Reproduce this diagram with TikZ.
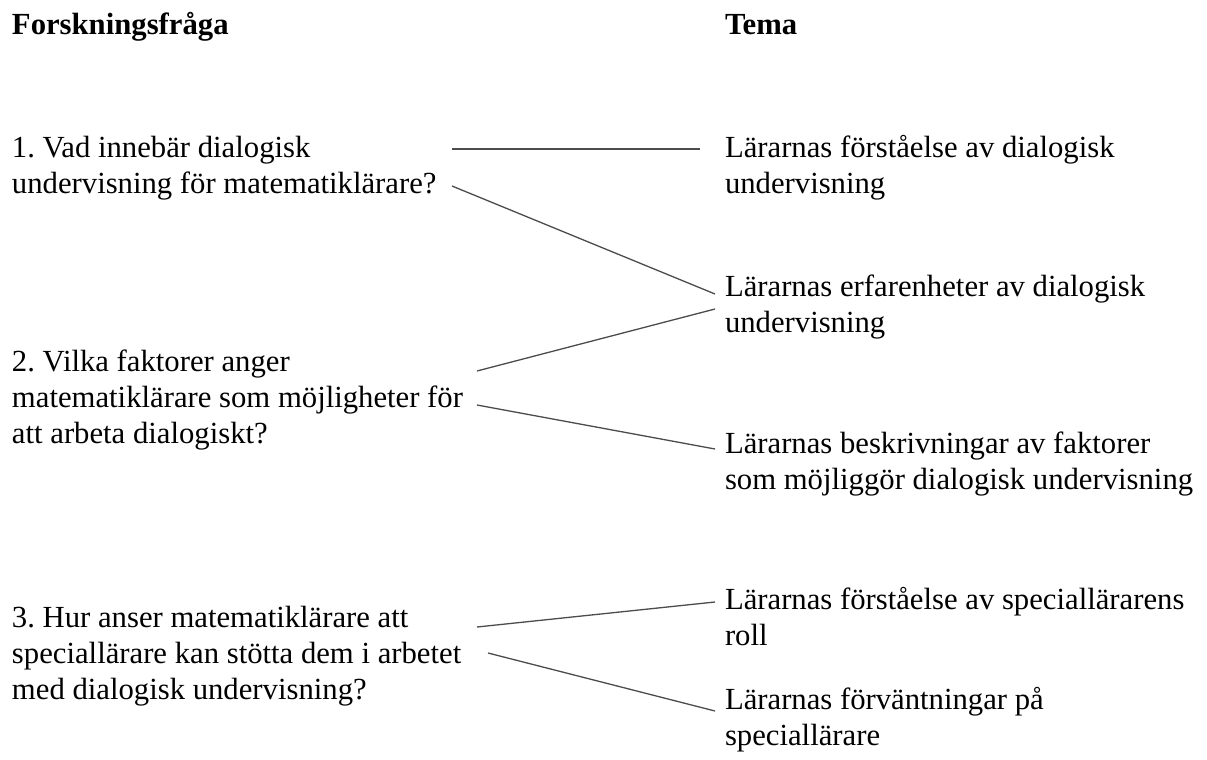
\documentclass[tikz,border=0pt]{standalone}
\usepackage{fontspec}
\setmainfont{Liberation Serif}
\frenchspacing
\newcommand\mkblock[1]{\begin{tabular}[t]{@{}l@{}}#1\end{tabular}}
\begin{document}
\begin{tikzpicture}[x=1pt,y=-1pt,
  txt/.style={anchor=base west, inner sep=0pt, outer sep=0pt, text=black,
    font=\fontsize{30.7}{36}\selectfont\frenchspacing},
  hd/.style={txt, font=\fontsize{30.7}{36}\selectfont\bfseries, text=black},
  conn/.style={line width=1.3pt, draw=black!70}]
\useasboundingbox[fill=white] (0,0) rectangle (1207,760);

% headings
\node[hd] (h1) at (12,35) {Forskningsfråga};
\node[hd] (h2) at (725,35) {Tema};

% research questions
\node[txt] (q1) at (12,157) {\mkblock{1. Vad innebär dialogisk\\undervisning för matematiklärare?}};
\node[txt] (q2) at (12,371) {\mkblock{2. Vilka faktorer anger\\matematiklärare som möjligheter för\\att arbeta dialogiskt?}};
\node[txt] (q3) at (12,627) {\mkblock{3. Hur anser matematiklärare att\\speciallärare kan stötta dem i arbetet\\med dialogisk undervisning?}};

% themes
\node[txt] (t1) at (725,157) {\mkblock{Lärarnas förståelse av dialogisk\\undervisning}};
\node[txt] (t2) at (725,296) {\mkblock{Lärarnas erfarenheter av dialogisk\\undervisning}};
\node[txt] (t3) at (725,453) {\mkblock{Lärarnas beskrivningar av faktorer\\som möjliggör dialogisk undervisning}};
\node[txt] (t4) at (725,609) {\mkblock{Lärarnas förståelse av speciallärarens\\roll}};
\node[txt] (t5) at (725,709) {\mkblock{Lärarnas förväntningar på\\speciallärare}};

% connector end points
\coordinate (q1a) at (452,149);
\coordinate (q1b) at (452,186);
\coordinate (q2a) at (477,371);
\coordinate (q2b) at (477,405);
\coordinate (q3a) at (477,627);
\coordinate (q3b) at (488,653);
\coordinate (t1a) at (700,149);
\coordinate (t2a) at (715,294);
\coordinate (t2b) at (715,309);
\coordinate (t3a) at (715,449);
\coordinate (t4a) at (715,602);
\coordinate (t5a) at (715,711);

\draw[conn] (q1a) -- (t1a);
\draw[conn] (q1b) -- (t2a);
\draw[conn] (q2a) -- (t2b);
\draw[conn] (q2b) -- (t3a);
\draw[conn] (q3a) -- (t4a);
\draw[conn] (q3b) -- (t5a);
\end{tikzpicture}
\end{document}
